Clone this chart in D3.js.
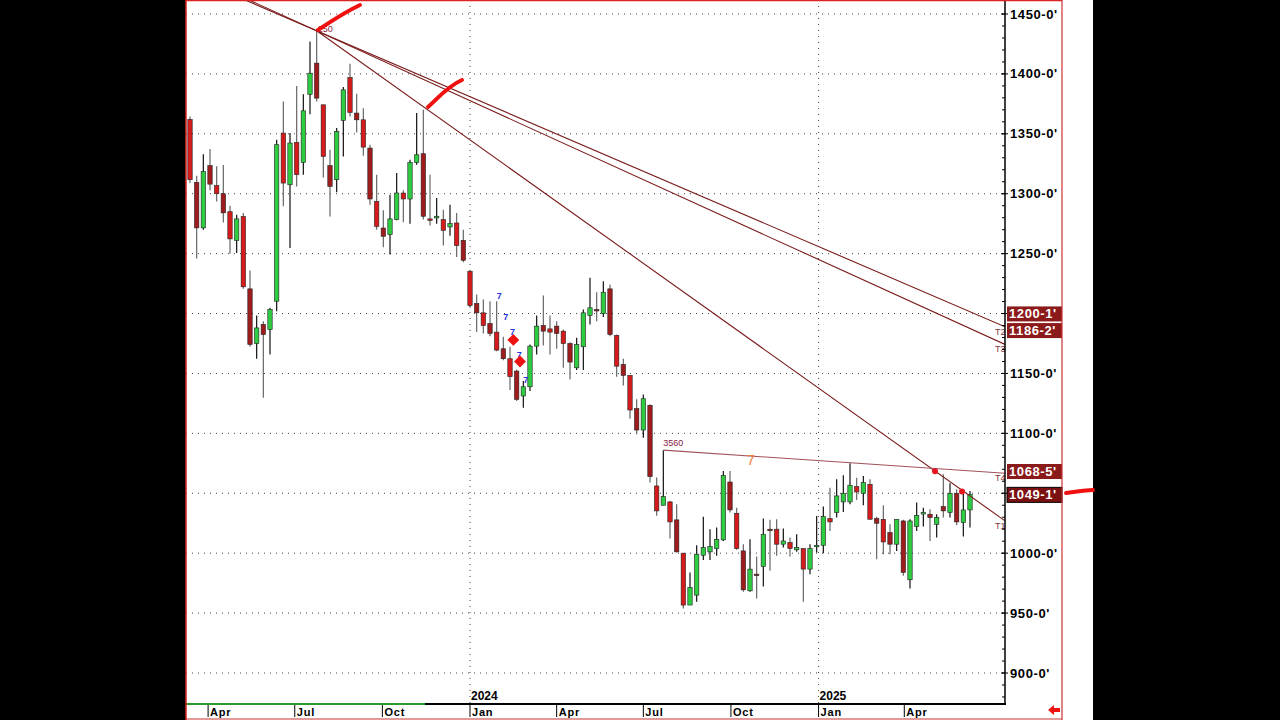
<!DOCTYPE html>
<html>
<head>
<meta charset="utf-8">
<script src="https://cdn.jsdelivr.net/npm/d3@7"></script>
<style>
body { margin: 0; background: #000; }
svg { display: block; }
</style>
</head>
<body>
<div id="chart"></div>
<script>
'use strict';

// weekly bars, first one is the week of 2023-03-13
var startDate = new Date(2023, 2, 13);

var opens = [1362,1309.5,1271.5,1323.4,1306.7,1300,1285,1261,1281,1220.6,1175,1190.9,1186.7,1210.3,1350.6,1307.5,1342.8,1326.1,1383,1409,
  1374.2,1323.4,1311.7,1361.2,1397,1367.3,1361.7,1338.1,1293.6,1271.4,1265.9,1278.4,1300.6,1295.6,1326.1,1333.4,1279,1279.8,1278.4,1272.3,
  1275.6,1261.1,1235.3,1208.4,1200.6,1191.7,1184.5,1170.6,1162.3,1152,1131.2,1138.9,1172.8,1190,1187.2,1189.5,1185.3,1175,1154.7,1172.3,
  1198.4,1203.4,1200,1220.6,1181.7,1157.5,1148.4,1120.6,1102.8,1123.4,1056.1,1040,1042.8,1027.8,1000,956.7,965,998.3,1001.1,1003.9,
  1011.1,1059.4,1033.3,1001.9,968.6,982.5,988.9,1020,1020,1007.5,1008.9,1002.8,1003.9,986.7,1006.6,1006.6,1028.9,1033.9,1042.8,1042.8,
  1055.5,1050,1057.5,1028.9,1028.3,1017.2,1007.5,1026.9,977.8,1022.2,1033.9,1032.5,1024.1,1038.9,1033.9,1050,1025.5,1036.1];
var highs = [1364.5,1315,1333,1337.3,1323,1324,1290,1282.5,1284,1236,1198.4,1193.6,1204.8,1345,1377,1350.6,1390,1383,1427,1436,
  1374.2,1336.7,1354.8,1389,1408.4,1383.4,1371.4,1340.9,1315.9,1286.2,1299.2,1317.3,1302.8,1328.4,1367.3,1370,1315.9,1296.4,1286.7,1290.9,
  1284,1270,1236.1,1215.9,1211.7,1210.3,1210.3,1180.6,1172.3,1153.4,1143.6,1174.2,1198.4,1215,1198.4,1193.6,1186.7,1176.1,1179.7,1203.4,
  1229.8,1217.8,1227,1224.2,1182.5,1162.3,1148.4,1128.4,1132.5,1124.2,1063.1,1086,1043.6,1040.8,1000,983.9,1006.7,1030.5,1020,1021.4,
  1068.6,1068.6,1038,1007.5,1011.6,997.2,1028.9,1027.8,1028.3,1020.5,1013,1015.8,1003.9,1007.5,1031.1,1038.9,1054.7,1061.7,1065,1075,
  1063,1064.4,1061.7,1030.5,1040,1024.1,1028.3,1027.8,1028.3,1042.2,1038,1036.6,1032.5,1065.8,1058.3,1053.3,1051.9,1051.9];
var lows = [1309,1246,1270,1303,1293.6,1276,1250,1250.6,1220.6,1172.3,1162.3,1129.8,1165.9,1202,1289.5,1254.7,1306,1315.9,1366.4,1377,
  1313.6,1281,1301.2,1331.1,1364.5,1351.1,1331.7,1290.9,1270,1255.3,1249.2,1277.8,1276.2,1275,1324.2,1278.4,1273.4,1275,1256.7,1265,
  1247.2,1242.8,1204.8,1184.5,1183.4,1181.1,1168.6,1161.1,1136.1,1127,1121.4,1135.3,1165.9,1173.4,1165.9,1170.6,1154.7,1145,1152.8,1152.8,
  1190.9,1193.6,1197.2,1181.1,1147.3,1140,1112.3,1099.2,1096.4,1058.9,1031.2,1040,1012.2,1000.6,953.9,956.7,959.5,994.4,994.4,997.8,
  1010.2,1033.9,1002.8,967.8,967.8,962.2,972.2,985.3,997.8,1004.7,997.2,1001.1,959.4,982.5,1000.5,1000,1018.6,1029.7,1034.4,1040.8,
  1044.4,1040,1028.3,995,999.2,999.2,1001.9,981.1,970.5,1018.6,1022.2,1010.2,1013,1029.7,1029.7,1023.3,1013.9,1021.4];
var closes = [1311.7,1271.5,1318.6,1308,1300,1284,1262.3,1279,1222.3,1174.2,1188,1182.5,1203.4,1340.9,1308.9,1342.3,1315.9,1369.2,1400.6,1379.8,
  1331.1,1306.1,1352,1386.7,1367.8,1361.7,1338.9,1295.6,1272.8,1264.5,1279,1300.6,1295.6,1326.1,1332.5,1281.2,1278.4,1281.2,1269.5,1275,
  1256.7,1244.5,1206.7,1200.6,1190,1183.4,1169.5,1162.3,1147.3,1128.4,1138.9,1172.8,1189.5,1185.3,1184.5,1183.4,1175,1159.5,1174.2,1200.6,
  1204.8,1202.5,1217.8,1182.5,1156.1,1148.4,1119.5,1102.8,1128.9,1063.9,1035.3,1047.2,1026.1,1001.1,956.7,971.4,999.2,1004.7,1005.5,1011.6,
  1065,1036.1,1003.9,969.4,986.7,981.9,1015.8,1019.4,1007.5,1010.2,1003.9,1004.7,986.7,1003.9,1006.6,1030.5,1026.1,1047.8,1050,1056.7,
  1051.1,1058.9,1028.3,1025,1009.4,1007.5,1028.3,983.9,1026.9,1031.6,1033.9,1029.7,1029.7,1035.3,1050,1026.1,1036.1,1049.1];

// trend lines: [bar index, price] pairs
var trendNames = ["T1", "T2", "T3", "T4"];
var trendFrom = [[19, 1436], [7, 1464.7], [7, 1466.4], [71, 1086]];
var trendTo = [[122.25, 1027], [122.25, 1189], [122.25, 1174.2], [122.25, 1066.7]];
var trendDots = [[111.75, 1068.3], [115.8, 1051.5]];

var priceTicks = [1450, 1400, 1350, 1300, 1250, 1200, 1150, 1100, 1050, 1000, 950, 900];
var priceTags = ["1200-1'", "1186-2'", "1068-5'", "1049-1'"];
var priceTagValues = [1200.1, 1186.2, 1068.6, 1049.1];

var blueSevens = [[46, 1212], [47, 1195], [48, 1182], [49, 1163], [50, 1142]];
var diamonds = [[48.5, 1178], [49.5, 1160]];

var W = 1280, H = 720,
    pL = 186, pR = 1005, pT = 0, pB = 703;

var svg = d3.select("#chart").append("svg").attr("width", W).attr("height", H);
svg.append("rect").attr("x", 186).attr("y", 0).attr("width", 907).attr("height", 720).attr("fill", "#fff");

function dateOfF(i) {
    return new Date(startDate.getTime() + i * 7 * 864e5);
}

var x = d3.scaleTime()
    .domain([dateOfF(-0.6), dateOfF(122.25)])
    .range([pL, pR]);
var y = d3.scaleLinear().domain([900, 1450]).range([673, 14]);

svg.append("clipPath").attr("id", "plot").append("rect")
    .attr("x", pL).attr("y", pT).attr("width", pR - pL).attr("height", pB - pT);

// grid
var grid = svg.append("g").attr("stroke", "#444").attr("stroke-dasharray", "1,5");
grid.selectAll("line.h").data(priceTicks).enter().append("line")
    .attr("x1", pL).attr("x2", pR)
    .attr("y1", function (d) { return y(d); }).attr("y2", function (d) { return y(d); });
var years = [new Date(2024, 0, 1), new Date(2025, 0, 1)];
grid.selectAll("line.v").data(years).enter().append("line")
    .attr("y1", pT).attr("y2", pB)
    .attr("x1", function (d) { return x(d); }).attr("x2", function (d) { return x(d); });

var bars = d3.range(opens.length).map(function (i) {
    return {i: i, o: opens[i], h: highs[i], l: lows[i], c: closes[i]};
});

var plot = svg.append("g").attr("clip-path", "url(#plot)");
var bw = 4.4;
var candle = plot.selectAll("g.c").data(bars).enter().append("g");
candle.append("line")
    .attr("x1", function (d) { return x(dateOfF(d.i)); })
    .attr("x2", function (d) { return x(dateOfF(d.i)); })
    .attr("y1", function (d) { return y(d.h); })
    .attr("y2", function (d) { return y(d.l); })
    .attr("stroke", function (d) { return d.c >= d.o ? "#111" : "#666"; })
    .attr("stroke-width", 1.2);
candle.append("rect")
    .attr("x", function (d) { return x(dateOfF(d.i)) - bw / 2; })
    .attr("width", bw)
    .attr("y", function (d) { return y(Math.max(d.o, d.c)); })
    .attr("height", function (d) { return Math.max(1.5, Math.abs(y(d.o) - y(d.c))); })
    .attr("fill", function (d) { return d.c >= d.o ? "#2ecc40" : (d.i % 2 ? "#a01c1c" : "#d71a1a"); })
    .attr("stroke", "#222").attr("stroke-width", 0.6);

// trend lines
plot.selectAll("line.t").data(trendNames).enter().append("line")
    .attr("x1", function (d, k) { return x(dateOfF(trendFrom[k][0])); })
    .attr("y1", function (d, k) { return y(trendFrom[k][1]); })
    .attr("x2", function (d, k) { return x(dateOfF(trendTo[k][0])); })
    .attr("y2", function (d, k) { return y(trendTo[k][1]); })
    .attr("stroke", function (d) { return d == "T4" ? "#a0505a" : "#7a1a1a"; })
    .attr("stroke-width", 1.1);
plot.selectAll("circle.d").data(trendDots).enter().append("circle")
    .attr("cx", function (d) { return x(dateOfF(d[0])); })
    .attr("cy", function (d) { return y(d[1]); })
    .attr("r", 3).attr("fill", "#e8141c");

svg.selectAll("text.tn").data(trendNames).enter().append("text")
    .attr("x", 995)
    .attr("y", function (d, k) { return y(trendTo[k][1]) + 8; })
    .attr("font-family", "Liberation Sans, Arial").attr("font-size", 9).attr("fill", "#8a3040")
    .text(function (d) { return d; });

// annotations
plot.append("text").attr("x", x(dateOfF(19)) + 1).attr("y", y(1436) + 1)
    .attr("font-family", "Liberation Sans").attr("font-size", 9).attr("fill", "#8a2040").text("250");
plot.append("text").attr("x", x(dateOfF(71))).attr("y", y(1086) - 4)
    .attr("font-family", "Liberation Sans").attr("font-size", 9).attr("fill", "#8a2040").text("3560");
plot.append("text").attr("x", x(dateOfF(83.5))).attr("y", y(1082) + 10)
    .attr("font-family", "Liberation Sans").attr("font-size", 15).attr("fill", "#f08040").text("7");
plot.selectAll("text.b7").data(blueSevens).enter().append("text")
    .attr("x", function (d) { return x(dateOfF(d[0])); })
    .attr("y", function (d) { return y(d[1]); })
    .attr("font-family", "Liberation Sans").attr("font-size", 9).attr("font-weight", "bold").attr("fill", "#2233dd").text("7");
plot.selectAll("path.dm").data(diamonds).enter().append("path")
    .attr("d", d3.symbol(d3.symbolDiamond2, 90))
    .attr("transform", function (d) { return "translate(" + x(dateOfF(d[0])) + "," + y(d[1]) + ")"; })
    .attr("fill", "#ee1111");

// right price axis
var yAxis = svg.append("g").attr("transform", "translate(" + pR + ",0)");
yAxis.append("line").attr("y1", 0).attr("y2", pB + 2).attr("stroke", "#000").attr("stroke-width", 1.5);
yAxis.selectAll("line.m").data(d3.range(880, 1460, 10)).enter().append("line")
    .attr("x1", -3).attr("x2", 0)
    .attr("y1", function (d) { return y(d); }).attr("y2", function (d) { return y(d); })
    .attr("stroke", "#000");
yAxis.selectAll("line.M").data(priceTicks).enter().append("line")
    .attr("x1", -4).attr("x2", 3)
    .attr("y1", function (d) { return y(d); }).attr("y2", function (d) { return y(d); })
    .attr("stroke", "#000");
yAxis.selectAll("text").data(priceTicks).enter().append("text")
    .attr("x", 5).attr("y", function (d) { return y(d) + 4.5; })
    .attr("font-family", "Liberation Sans, Arial").attr("font-size", 13).attr("font-weight", "bold")
    .attr("letter-spacing", 0.6)
    .text(function (d) { return d + "-0'"; });

var tag = yAxis.selectAll("g.tag").data(priceTags).enter().append("g")
    .attr("transform", function (d, k) { return "translate(2," + (y(priceTagValues[k]) - 7) + ")"; });
tag.append("rect").attr("width", 55).attr("height", 15)
    .attr("fill", function (d, k) { return k == 3 ? "#7a1010" : "#8b1a1a"; })
    .attr("stroke", function (d, k) { return k == 3 ? "#000" : "none"; });
tag.append("text").attr("x", 2).attr("y", 12)
    .attr("font-family", "Liberation Sans, Arial").attr("font-size", 13).attr("font-weight", "bold")
    .attr("letter-spacing", 0.6).attr("fill", "#fff")
    .text(function (d) { return d; });

// bottom time axis
svg.append("line").attr("x1", pL).attr("x2", pR + 1).attr("y1", pB + 1).attr("y2", pB + 1)
    .attr("stroke", "#000").attr("stroke-width", 2);
svg.append("line").attr("x1", pL).attr("x2", 425).attr("y1", pB + 1).attr("y2", pB + 1)
    .attr("stroke", "#2a9a2a").attr("stroke-width", 2);
var months = d3.timeMonth.every(3).range(new Date(2023, 3, 1), new Date(2025, 6, 1));
var xt = svg.append("g");
xt.selectAll("line").data(months).enter().append("line")
    .attr("x1", function (d) { return x(d); }).attr("x2", function (d) { return x(d); })
    .attr("y1", 705).attr("y2", 717).attr("stroke", "#000");
xt.selectAll("text").data(months).enter().append("text")
    .attr("x", function (d) { return x(d) + 2; }).attr("y", 716)
    .attr("font-family", "Liberation Sans, Arial").attr("font-size", 11).attr("font-weight", "bold")
    .attr("letter-spacing", 0.8)
    .text(function (d) { return d3.timeFormat("%b")(d); });
xt.selectAll("text.y").data(years).enter().append("text")
    .attr("x", function (d) { return x(d) + 1; }).attr("y", 700)
    .attr("font-family", "Liberation Sans, Arial").attr("font-size", 12).attr("font-weight", "bold")
    .text(function (d) { return d.getFullYear(); });

// frame
svg.append("line").attr("x1", 186).attr("x2", 186).attr("y1", 0).attr("y2", 720).attr("stroke", "#d22").attr("stroke-width", 1.5);
svg.append("line").attr("x1", 186).attr("x2", 1062).attr("y1", 0.5).attr("y2", 0.5).attr("stroke", "#d22").attr("stroke-width", 1.5);
svg.append("line").attr("x1", 1062).attr("x2", 1062).attr("y1", 0).attr("y2", 720).attr("stroke", "#c33").attr("stroke-width", 1.2);
svg.append("line").attr("x1", 186).attr("x2", 1062).attr("y1", 719).attr("y2", 719).attr("stroke", "#c33").attr("stroke-width", 1.2);
svg.append("path").attr("d", "M1048,710 l6,-5 v3 h6 v4 h-6 v3 z").attr("fill", "#e11");

// hand drawn marks
var marks = ["M318,30 C330,22 345,12 360,5", "M428,107 C438,98 448,86 462,80", "M1066,493 C1075,492 1085,490 1093,490"];
svg.selectAll("path.mk").data(marks).enter().append("path")
    .attr("d", function (d) { return d; })
    .attr("fill", "none").attr("stroke", "#f01010").attr("stroke-width", 4).attr("stroke-linecap", "round");
</script>
</body>
</html>
